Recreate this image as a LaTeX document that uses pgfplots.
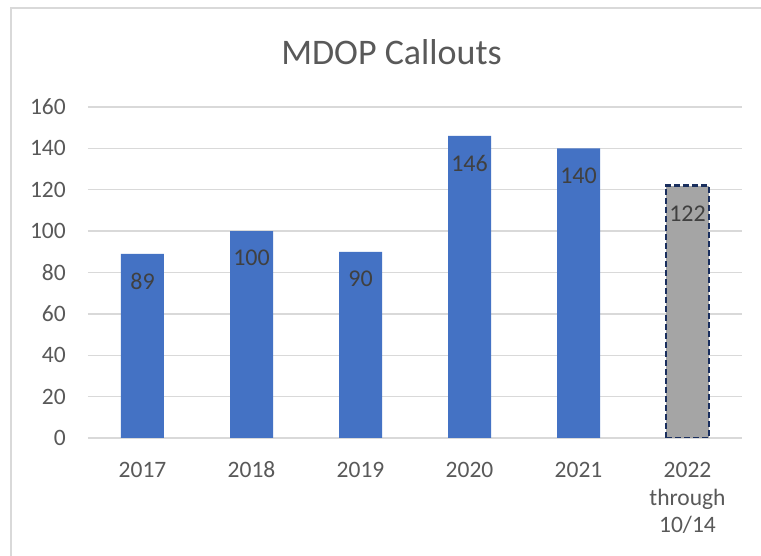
\documentclass[border=0pt]{standalone}
\usepackage{fontspec}
\setmainfont{Carlito}
\usepackage{pgfplots}
\pgfplotsset{compat=1.18}
\definecolor{barblue}{HTML}{4472C4}
\definecolor{bargray}{HTML}{A5A5A5}
\definecolor{navy}{HTML}{1A2F5E}
\definecolor{gridgray}{HTML}{D9D9D9}
\definecolor{ticktext}{HTML}{595959}
\definecolor{labeltext}{HTML}{404040}
\begin{document}
\begin{tikzpicture}[x=1pt,y=1pt]
\useasboundingbox[fill=white] (0,0) rectangle (761,556);
\draw[gridgray, line width=2pt] (11,0) -- (11,548) -- (761,548);
\node[anchor=base, text=ticktext, inner sep=0pt, font=\fontsize{36}{40}\selectfont] at (391.5,491) {MDOP Callouts};
\begin{axis}[
  at={(88pt,118pt)}, anchor=south west,
  scale only axis, width=654pt, height=331pt,
  ybar, bar width=43pt,
  xmin=-0.5, xmax=5.5, ymin=0, ymax=160,
  xtick={0,1,2,3,4,5},
  xticklabels={2017,2018,2019,2020,2021,{\begin{tabular}[t]{@{}c@{}}2022\\through\\10/14\end{tabular}}},
  ytick={0,20,40,60,80,100,120,140,160},
  axis line style={draw=none},
  major tick length=0pt,
  ymajorgrids, major grid style={draw=gridgray, line width=1.4pt},
  /pgf/number format/assume math mode=true,
  tick label style={text=ticktext, font=\fontsize{23.5}{27.5}\selectfont, inner sep=0pt},
  xticklabel style={anchor=base, yshift=-40pt},
  yticklabel style={anchor=east, xshift=-22pt},
  nodes near coords,
  every node near coord/.append style={anchor=north, inner sep=0pt, yshift=-19pt, text=labeltext, font=\fontsize{24}{28}\selectfont},
]
\addplot[fill=barblue, draw=none, bar shift=0pt] coordinates {(0,89) (1,100) (2,90) (3,146) (4,140)};
\addplot[fill=bargray, draw=navy, line width=2.6pt, dash pattern=on 6pt off 3pt, bar shift=0pt] coordinates {(5,122)};
\end{axis}
\end{tikzpicture}
\end{document}
